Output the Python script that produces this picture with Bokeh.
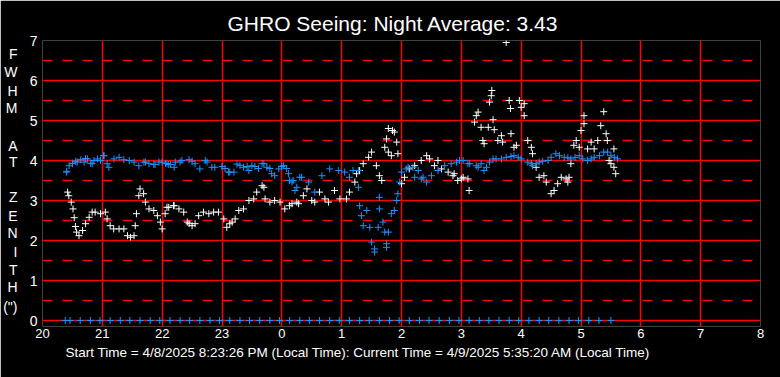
from bokeh.plotting import figure
from bokeh.models import Range1d, FixedTicker, LinearAxis, Title
from bokeh.embed import file_html
from bokeh.resources import INLINE

# ---- data (hours on a continuous clock: 24 = midnight, 29 = 5 AM) ----
blue_t = [20.40, 20.50, 20.58, 20.72, 20.83, 21.03, 21.11, 21.28, 21.45, 21.61, 21.72, 21.88,
          22.00, 22.08, 22.11, 22.20, 22.22, 22.30, 22.33, 22.45, 22.50, 22.55, 22.63, 22.72, 22.75,
          22.83, 22.88, 23.00, 23.05, 23.11, 23.13, 23.20, 23.25, 23.30, 23.36, 23.42, 23.45, 23.50,
          23.55, 23.61, 23.67, 23.70, 23.75, 23.80, 23.83, 23.88, 23.95, 24.00, 24.03, 24.08, 24.11,
          24.13, 24.17, 24.19, 24.22, 24.25, 24.30, 24.33, 24.45, 24.55, 24.67, 24.80, 24.95, 25.05,
          25.13, 25.19, 25.28, 25.28, 25.30, 25.33, 25.36, 25.42, 25.47, 25.50, 25.55, 25.55, 25.61,
          25.63, 25.63, 25.69, 25.72, 25.75, 25.75, 25.78, 25.83, 25.88, 25.92, 25.94, 25.97, 26.00,
          26.08, 26.11, 26.19, 26.22, 26.28, 26.33, 26.36, 26.42, 26.50, 26.61, 26.72, 26.83, 26.97,
          27.11, 27.25, 27.33, 27.38, 27.47, 27.58, 27.75, 27.88, 28.00, 28.11, 28.19, 28.30, 28.45,
          28.58, 28.72, 28.83, 28.97, 29.11, 29.22, 29.38, 29.50, 29.61,
          20.405, 20.445, 20.50, 20.555, 20.64, 20.695, 20.75, 20.805, 20.86, 20.92, 20.97, 21.02,
          21.08, 21.195, 21.36, 21.53, 21.695, 21.78, 21.86, 21.945, 22.055, 22.14,
          26.92, 27.03, 27.14, 27.28, 27.42, 27.53, 27.67, 27.83, 27.95, 28.17, 28.25, 28.36,
          28.50, 28.64, 28.78, 28.90, 29.03, 29.17, 29.31, 29.445, 29.555]
blue_v = [3.71, 3.92, 3.96, 4.05, 3.92, 4.12, 3.83, 4.08, 4.00, 3.87, 3.96, 3.90,
          3.96, 3.92, 3.90, 3.83, 3.96, 3.96, 4.00, 4.02, 3.98, 3.92, 3.79, 4.00, 3.96,
          3.83, 3.83, 3.85, 3.80, 3.71, 3.71, 3.71, 3.91, 3.88, 3.83, 3.85, 3.75, 3.87,
          3.85, 3.80, 3.92, 3.92, 3.83, 3.80, 3.67, 3.62, 3.79, 3.85, 3.87, 3.80, 3.67,
          3.50, 3.46, 3.50, 3.25, 3.33, 3.58, 3.58, 3.46, 3.21, 3.62, 3.79, 3.75, 3.71,
          3.58, 3.75, 3.75, 3.33, 2.87, 2.62, 2.37, 2.75, 2.33, 1.96, 1.79, 1.71, 2.33,
          2.79, 3.08, 2.46, 2.21, 1.92, 1.83, 2.21, 2.67, 2.75, 3.00, 3.17, 3.46, 3.71,
          3.79, 3.83, 3.83, 3.58, 3.75, 3.54, 3.58, 3.46, 3.62, 3.75, 3.87, 3.92, 4.00,
          3.92, 3.87, 3.92, 3.75, 3.96, 4.04, 4.08, 4.12, 4.04, 3.96, 3.87, 3.96, 4.00,
          4.17, 4.08, 4.04, 4.12, 4.00, 4.08, 4.21, 4.12, 4.04,
          3.73, 3.87, 3.93, 3.98, 4.02, 3.96, 4.04, 3.93, 4.00, 4.04, 4.00, 4.12,
          3.92, 4.04, 4.02, 3.96, 3.96, 3.92, 3.90, 3.96, 3.93, 3.90,
          3.96, 4.00, 3.92, 3.83, 3.83, 4.04, 4.04, 4.10, 4.08, 3.92, 3.92, 3.98,
          4.08, 4.12, 4.07, 4.08, 4.04, 4.04, 4.12, 4.21, 4.08]

white_t = [20.42, 20.44, 20.48, 20.51, 20.53, 20.55, 20.57, 20.61, 20.67, 20.72, 20.78, 20.83,
           20.88, 20.97, 21.05, 21.08, 21.13, 21.19, 21.28, 21.36, 21.42, 21.47, 21.53, 21.55,
           21.57, 21.61, 21.63, 21.69, 21.72, 21.78, 21.86, 21.92, 21.97, 22.00, 22.05, 22.08,
           22.11, 22.19, 22.20, 22.28, 22.36, 22.42, 22.45, 22.50, 22.55, 22.61, 22.69, 22.78,
           22.86, 22.94, 23.03, 23.08, 23.13, 23.17, 23.22, 23.28, 23.36, 23.45, 23.53, 23.58,
           23.67, 23.70, 23.72, 23.80, 23.88, 23.97, 24.05, 24.13, 24.17, 24.25, 24.28, 24.36,
           24.42, 24.50, 24.55, 24.63, 24.72, 24.78, 24.88, 24.97, 25.08, 25.13, 25.22, 25.25,
           25.30, 25.36, 25.45, 25.50, 25.58, 25.63, 25.67, 25.72, 25.75, 25.78, 25.78, 25.83,
           25.85, 25.88, 25.92, 25.94, 26.00, 26.05, 26.13, 26.22, 26.33, 26.42, 26.47, 26.55,
           26.61, 26.67, 26.78, 26.86, 26.88, 26.94, 27.00, 27.03, 27.11, 27.13, 27.22, 27.25,
           27.28, 27.33, 27.36, 27.38, 27.45, 27.47, 27.50, 27.51, 27.53, 27.55, 27.61, 27.67,
           27.69, 27.75, 27.80, 27.82, 27.83, 27.88, 27.92, 27.97, 28.00, 28.05, 28.05, 28.11,
           28.17, 28.19, 28.25, 28.30, 28.38, 28.42, 28.50, 28.55, 28.61, 28.67, 28.75, 28.78,
           28.80, 28.83, 28.88, 28.92, 28.97, 29.00, 29.05, 29.05, 29.11, 29.17, 29.22, 29.28,
           29.33, 29.38, 29.42, 29.44, 29.47, 29.50, 29.55, 29.55, 29.58]
white_v = [3.21, 3.12, 2.96, 2.79, 2.57, 2.35, 2.21, 2.12, 2.25, 2.42, 2.58, 2.71,
           2.71, 2.67, 2.71, 2.54, 2.37, 2.29, 2.29, 2.29, 2.12, 2.08, 2.12, 2.37,
           2.67, 3.12, 3.29, 3.17, 2.96, 2.79, 2.75, 2.62, 2.46, 2.29, 2.67, 2.83,
           2.83, 2.87, 2.87, 2.79, 2.71, 2.46, 2.42, 2.37, 2.42, 2.62, 2.71, 2.67,
           2.71, 2.71, 2.54, 2.33, 2.42, 2.46, 2.54, 2.75, 2.79, 3.00, 3.04, 3.21,
           3.37, 3.33, 3.04, 2.96, 3.00, 2.96, 2.79, 2.87, 2.92, 2.96, 2.92, 3.12,
           3.29, 3.00, 2.96, 3.21, 3.04, 2.96, 3.25, 3.04, 3.04, 3.21, 3.46, 3.67,
           3.75, 3.92, 4.08, 4.21, 3.87, 3.62, 3.50, 4.33, 4.54, 4.21, 4.80, 4.12,
           4.75, 4.71, 4.46, 4.17, 3.42, 3.58, 3.79, 3.87, 4.00, 4.12, 4.04, 3.87,
           4.00, 3.79, 3.71, 3.62, 3.67, 3.50, 3.54, 3.58, 3.54, 3.25, 4.96, 5.12,
           5.21, 4.83, 4.50, 4.42, 4.83, 5.46, 5.62, 5.75, 5.02, 4.77, 4.50, 4.62,
           4.46, 6.95, 5.50, 5.30, 4.67, 4.33, 4.38, 5.50, 5.33, 5.12, 5.42, 4.50,
           4.33, 4.17, 3.83, 3.58, 3.62, 3.46, 3.17, 3.25, 3.42, 3.58, 3.54, 3.46,
           3.58, 3.92, 4.38, 4.50, 4.33, 4.75, 4.92, 5.12, 4.29, 4.46, 4.29, 4.50,
           4.87, 5.22, 4.67, 4.50, 4.00, 3.92, 3.83, 4.29, 3.67]

base_t = [20.38, 20.46, 20.63, 20.80, 20.96, 21.13, 21.30, 21.46, 21.63, 21.80, 21.96, 22.13,
          22.30, 22.46, 22.63, 22.80, 22.96, 23.13, 23.30, 23.46, 23.63, 23.80, 23.96, 24.13,
          24.30, 24.46, 24.63, 24.80, 24.96, 25.13, 25.30, 25.46, 25.63, 25.80, 25.96, 26.13,
          26.30, 26.46, 26.63, 26.80, 26.96, 27.13, 27.30, 27.46, 27.63, 27.80, 27.96, 28.13,
          28.30, 28.46, 28.63, 28.80, 28.96, 29.13, 29.30, 29.50]
base_v = [0.0] * len(base_t)

x_ticks = [20, 21, 22, 23, 24, 25, 26, 27, 28, 29, 30, 31, 32]
x_tick_labels = ["20", "21", "22", "23", "0", "1", "2", "3", "4", "5", "6", "7", "8"]
y_ticks = [0, 1, 2, 3, 4, 5, 6, 7]
y_half_ticks = [0.5, 1.5, 2.5, 3.5, 4.5, 5.5, 6.5]

title_text = "GHRO Seeing: Night Average: 3.43"
# stacked letters of the vertical y-axis title "FWHM AT ZENITH (")", one per row
y_title_letters = ["F", "W", "H", "M", "A", "T", "Z", "E", "N", "I", "T", "H", "(\")"]
y_title_rows = [6.667, 6.208, 5.75, 5.325, 4.375, 3.975, 3.083, 2.625, 2.183, 1.725, 1.275, 0.833, 0.35]
footer_text = ("Start Time = 4/8/2025 8:23:26 PM (Local Time): "
               "Current Time = 4/9/2025 5:35:20 AM (Local Time)")

FONT = "Liberation Sans"
RED = "#ff0000"
BLUE = "#1e90ff"

p = figure(width=780, height=377, output_backend="svg", toolbar_location=None,
           x_range=Range1d(20, 32), y_range=Range1d(-0.15, 7),
           background_fill_color="black", border_fill_color="black",
           min_border_left=40, min_border_right=20, min_border_top=40, min_border_bottom=51)
p.outline_line_color = None

p.title.text = title_text
p.title.align = "left"
p.title.offset = 185
p.title.standoff = 12
p.title.text_color = "white"
p.title.text_font = FONT
p.title.text_font_size = "21px"
p.title.text_font_style = "normal"

# axes
p.xaxis.ticker = FixedTicker(ticks=x_ticks)
p.xaxis.major_label_overrides = dict(zip(x_ticks, x_tick_labels))
p.yaxis.ticker = FixedTicker(ticks=y_ticks, minor_ticks=y_half_ticks)

letters_axis = LinearAxis(ticker=FixedTicker(ticks=y_title_rows),
                          major_label_overrides=dict(zip(y_title_rows, y_title_letters)))
p.add_layout(letters_axis, "left")

for ax in (p.xaxis[0], p.yaxis[0], letters_axis):
    ax.axis_line_color = None
    ax.major_tick_line_color = None
    ax.minor_tick_line_color = None
    ax.major_tick_out = 0
    ax.major_tick_in = 0
    ax.minor_tick_out = 0
    ax.minor_tick_in = 0
    ax.major_label_text_color = "white"
    ax.major_label_text_font = FONT
p.xaxis.major_label_text_font_size = "13px"
p.xaxis.major_label_standoff = 2
p.yaxis[0].major_label_text_font_size = "14px"
p.yaxis[0].major_label_standoff = 5
letters_axis.major_label_text_font_size = "14px"
letters_axis.major_label_standoff = 9

# footer line below the axis
footer = Title(text=footer_text, align="left", offset=23, standoff=4,
               text_color="white", text_font=FONT, text_font_size="13.5px",
               text_font_style="normal")
p.add_layout(footer, "below")

# grids
p.xgrid.ticker = FixedTicker(ticks=x_ticks)
p.xgrid.grid_line_color = RED
p.xgrid.grid_line_width = 1.5
p.xgrid.grid_line_alpha = 1
p.ygrid.ticker = FixedTicker(ticks=y_ticks, minor_ticks=y_half_ticks)
p.ygrid.grid_line_color = RED
p.ygrid.grid_line_width = 1.5
p.ygrid.minor_grid_line_color = RED
p.ygrid.minor_grid_line_width = 1.5
p.ygrid.minor_grid_line_dash = "10 10"

# data
p.scatter(base_t, base_v, marker="cross", size=7, line_color=BLUE, line_width=1)
p.scatter(white_t, white_v, marker="cross", size=7, line_color="white", line_width=1)
p.scatter(blue_t, blue_v, marker="cross", size=7, line_color=BLUE, line_width=1)

open("out.html", "w").write(file_html(p, INLINE))
